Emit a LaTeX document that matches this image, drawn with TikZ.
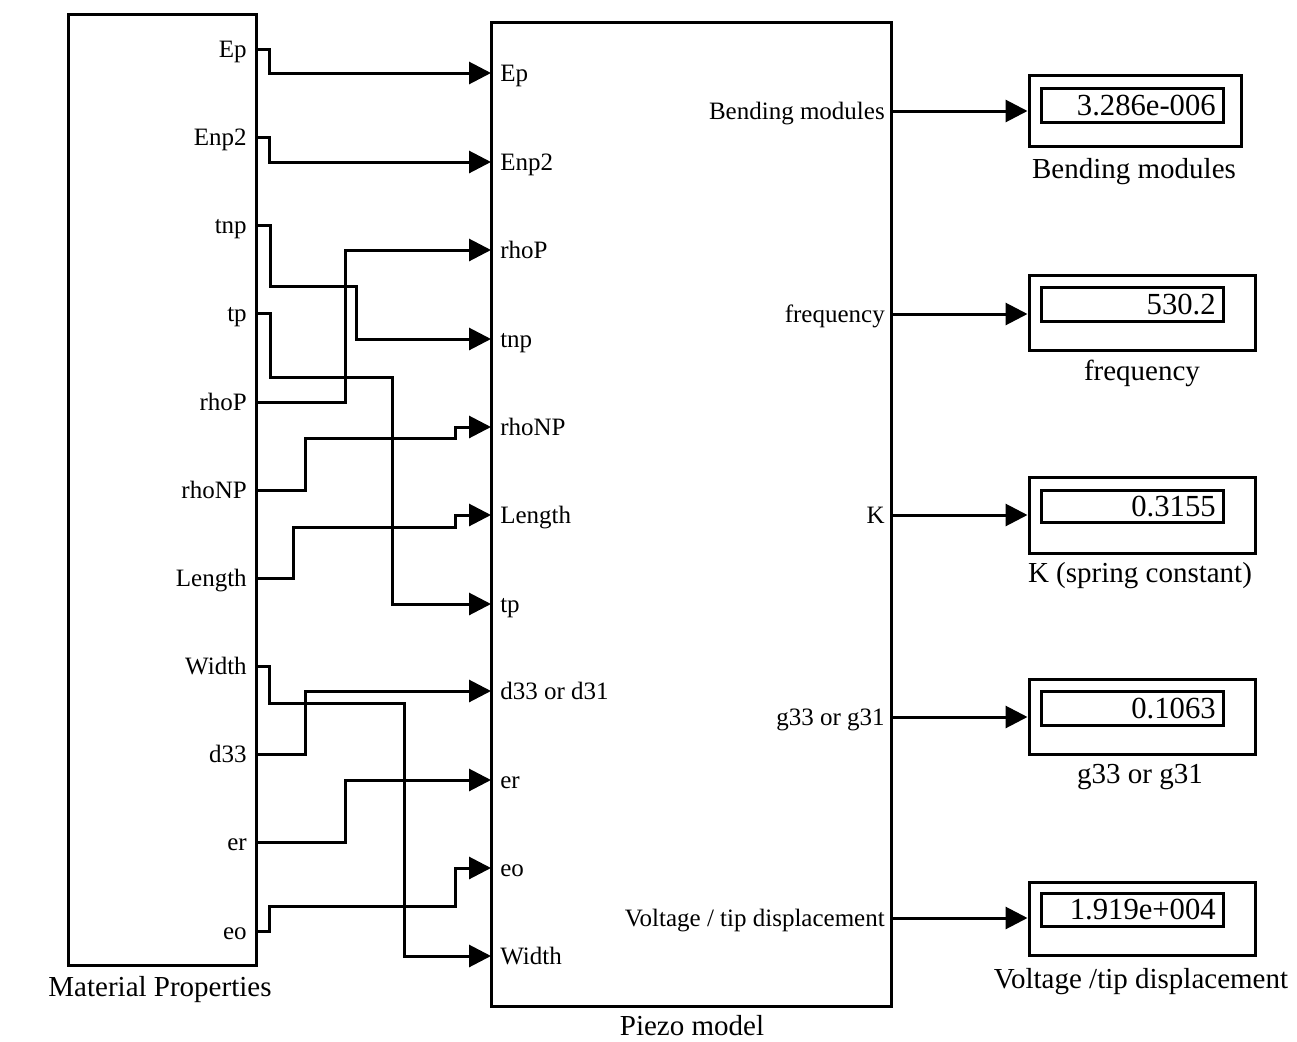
\documentclass[tikz,border=0pt]{standalone}
\usepackage{fontspec}
\setmainfont{Liberation Serif}
\usetikzlibrary{arrows.meta}
\newcommand\portfont{\fontsize{18.75}{20}\selectfont}
\newcommand\blkfont{\fontsize{21.75}{24}\selectfont}
\newcommand\valfont{\fontsize{23}{25}\selectfont}
\begin{document}
\begin{tikzpicture}[x=0.75pt,y=-0.75pt,
  wire/.style={line width=2.25pt},
  arr/.style={wire,-{Triangle[length=16.5pt,width=16.5pt]}},
  blk/.style={draw,line width=2.25pt,inner sep=0pt},
  lport/.style={anchor=base east,font=\portfont,inner sep=0pt},
  rport/.style={anchor=base west,font=\portfont,inner sep=0pt},
  oport/.style={anchor=base east,font=\portfont,inner sep=0pt},
  val/.style={anchor=base east,font=\valfont,inner sep=0pt},
  blklabel/.style={anchor=base,font=\blkfont,inner sep=0pt}]
\useasboundingbox (0,0) rectangle (1297,1042);
\fill[white] (0,0) rectangle (1297,1042);

% blocks
\node[blk,minimum width=141pt,minimum height=713.25pt] (mat) at (162,489.5) {};
\node[blk,minimum width=300pt,minimum height=738pt] (piezo) at (691,514) {};
\node[blklabel] (matlab) at (160,996) {Material Properties};
\node[blklabel] (pzlab) at (692,1035) {Piezo model};

% left output ports
\foreach \n/\y in {Ep/49,Enp2/137,tnp/225,tp/313,rhoP/402,rhoNP/490,Length/578,Width/666,d33/754,er/842,eo/931}{
  \coordinate (m\n) at (256,\y);
  \node[lport] (lm\n) at (247,\y+8) {\n};
}
% piezo input ports
\foreach \n/\t/\y in {Ep/Ep/73,Enp2/Enp2/162,rhoP/rhoP/250,tnp/tnp/339,rhoNP/rhoNP/427,Length/Length/515,tp/tp/604,d33/{d33 or d31}/691,er/er/780,eo/eo/868,Width/Width/956}{
  \coordinate (p\n) at (491,\y);
  \node[rport] (lp\n) at (500,\y+8) {\t};
}

% wires
\draw[arr] (mEp) -- (269,49) |- (pEp);
\draw[arr] (mEnp2) -- (269,137) |- (pEnp2);
\draw[arr] (mtnp) -- (270,225) |- (356,286) |- (ptnp);
\draw[arr] (mtp) -- (270,313) |- (392,377) |- (ptp);
\draw[arr] (mrhoP) -- (345,402) |- (prhoP);
\draw[arr] (mrhoNP) -- (305,490) |- (455,438) |- (prhoNP);
\draw[arr] (mLength) -- (293,578) |- (455,527) |- (pLength);
\draw[arr] (mWidth) -- (269,666) |- (404,703) |- (pWidth);
\draw[arr] (md33) -- (305,754) |- (pd33);
\draw[arr] (mer) -- (345,842) |- (per);
\draw[arr] (meo) -- (269,931) |- (455,906) |- (peo);

% piezo outputs
\foreach \n/\t/\y in {o1/{Bending modules}/111,o2/frequency/314,o3/K/515,o4/{g33 or g31}/717,o5/{Voltage / tip displacement}/918}{
  \coordinate (\n) at (891,\y);
  \node[oport] (l\n) at (885,\y+8) {\t};
}

% displays
\node[blk,minimum width=159pt,minimum height=53.25pt] (d1) at (1135,110.5) {};
\node[blk,minimum width=136.5pt,minimum height=25.5pt] (i1) at (1132,105) {};
\node[val] (v1) at (1216,115) {3.286e-006};
\node[blklabel] (c1) at (1134,178) {Bending modules};

\node[blk,minimum width=169.5pt,minimum height=56.25pt] (d2) at (1142,312.5) {};
\node[blk,minimum width=136.5pt,minimum height=25.5pt] (i2) at (1132,304) {};
\node[val] (v2) at (1216,314) {530.2};
\node[blklabel] (c2) at (1142,380) {frequency};

\node[blk,minimum width=169.5pt,minimum height=57pt] (d3) at (1142,515) {};
\node[blk,minimum width=136.5pt,minimum height=24pt] (i3) at (1132,506) {};
\node[val] (v3) at (1216,516) {0.3155};
\node[blklabel] (c3) at (1140,582) {K (spring constant)};

\node[blk,minimum width=169.5pt,minimum height=56.25pt] (d4) at (1142,716.5) {};
\node[blk,minimum width=136.5pt,minimum height=25.5pt] (i4) at (1132,708) {};
\node[val] (v4) at (1216,718) {0.1063};
\node[blklabel] (c4) at (1140,783) {g33 or g31};

\node[blk,minimum width=169.5pt,minimum height=54.75pt] (d5) at (1142,918.5) {};
\node[blk,minimum width=136.5pt,minimum height=24.75pt] (i5) at (1132,909.5) {};
\node[val] (v5) at (1216,919.5) {1.919e+004};
\node[blklabel] (c5) at (1141,988) {Voltage /tip displacement};

\foreach \i in {1,...,5}{
  \draw[arr] (o\i) -- (o\i -| d\i.west);
}
\end{tikzpicture}
\end{document}
